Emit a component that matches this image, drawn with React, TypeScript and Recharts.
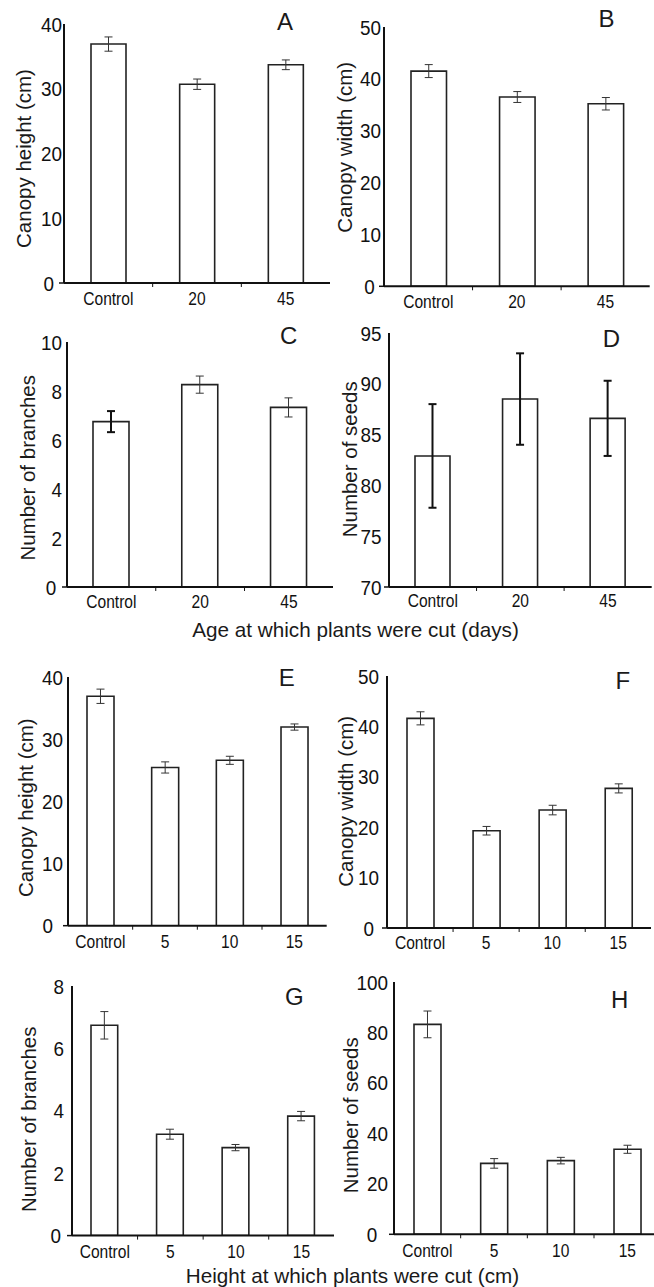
import React from 'react';
import { BarChart, Bar, XAxis, YAxis, ErrorBar, Label } from 'recharts';

// ---------- data ----------
const ageCategories = ['Control', '20', '45'];
const cutCategories = ['Control', '5', '10', '15'];

const canopyHeightAge = [36.9, 30.7, 33.7];
const canopyHeightAgeErr = [1.1, 0.8, 0.75];
const canopyWidthAge = [41.5, 36.5, 35.2];
const canopyWidthAgeErr = [1.25, 1.05, 1.2];
const branchesAge = [6.75, 8.26, 7.33];
const branchesAgeErr = [0.43, 0.35, 0.39];
const seedsAge = [82.9, 88.5, 86.6];
const seedsAgeErr = [5.1, 4.5, 3.7];

const canopyHeightCut = [36.9, 25.45, 26.6, 31.95];
const canopyHeightCutErr = [1.15, 0.9, 0.65, 0.5];
const canopyWidthCut = [41.6, 19.3, 23.4, 27.7];
const canopyWidthCutErr = [1.3, 0.85, 0.95, 0.9];
const branchesCut = [6.74, 3.25, 2.82, 3.83];
const branchesCutErr = [0.44, 0.16, 0.1, 0.15];
const seedsCut = [83.2, 28.1, 29.2, 33.7];
const seedsCutErr = [5.3, 1.9, 1.3, 1.6];

const ticksHeight = [0, 10, 20, 30, 40];
const ticksWidth = [0, 10, 20, 30, 40, 50];
const ticksBranchesAge = [0, 2, 4, 6, 8, 10];
const ticksSeedsAge = [70, 75, 80, 85, 90, 95];
const ticksBranchesCut = [0, 2, 4, 6, 8];
const ticksSeedsCut = [0, 20, 40, 60, 80, 100];

const boldAllNone = [false, false, false, false];
const boldFirst = [true, false, false];
const boldAll = [true, true, true];

const titleAge = 'Age at which plants were cut (days)';
const titleCut = 'Height at which plants were cut (cm)';

// ---------- style / layout ----------
const SANS = "'Liberation Sans', Arial, Helvetica, sans-serif";
const YW = 60;
const MT = 25;
const XH = 40;
const X_MARGIN = 10;

type Cfg = {
  letter: string; cats: string[]; values: number[]; errs: number[]; bold: boolean[];
  ticks: number[]; yLabel: string;
  axisX: number; right: number; top: number; bottom: number;
  barSize: number; gap: number; zeroGap: number; labelOffset: number; labelCy: number;
  letterX: number; letterY: number; xMargin: number;
};

const panels: Cfg[] = [
  { letter: 'A', cats: ageCategories, values: canopyHeightAge, errs: canopyHeightAgeErr, bold: boldAllNone,
    ticks: ticksHeight, yLabel: 'Canopy height (cm)', axisX: 64, right: 330, top: 24, bottom: 283,
    barSize: 35, gap: 2, zeroGap: 10, labelOffset: 39, labelCy: 158.5, letterX: 285, letterY: 21, xMargin: 9 },
  { letter: 'B', cats: ageCategories, values: canopyWidthAge, errs: canopyWidthAgeErr, bold: boldAllNone,
    ticks: ticksWidth, yLabel: 'Canopy width (cm)', axisX: 384.3, right: 650, top: 26.7, bottom: 286,
    barSize: 35.5, gap: 3, zeroGap: 9.3, labelOffset: 38.6, labelCy: 147, letterX: 606.7, letterY: 17.7, xMargin: 8 },
  { letter: 'C', cats: ageCategories, values: branchesAge, errs: branchesAgeErr, bold: boldFirst,
    ticks: ticksBranchesAge, yLabel: 'Number of branches', axisX: 66.7, right: 333, top: 341.7, bottom: 586.7,
    barSize: 36, gap: 5, zeroGap: 10.7, labelOffset: 37.7, labelCy: 467.5, letterX: 288.3, letterY: 335, xMargin: 8 },
  { letter: 'D', cats: ageCategories, values: seedsAge, errs: seedsAgeErr, bold: boldAll,
    ticks: ticksSeedsAge, yLabel: 'Number of seeds', axisX: 389.3, right: 652, top: 332.7, bottom: 586.7,
    barSize: 35, gap: 7.5, zeroGap: 7.5, labelOffset: 38.6, labelCy: 459, letterX: 611.7, letterY: 338, xMargin: 7 },
  { letter: 'E', cats: cutCategories, values: canopyHeightCut, errs: canopyHeightCutErr, bold: boldAllNone,
    ticks: ticksHeight, yLabel: 'Canopy height (cm)', axisX: 68.3, right: 327, top: 677.3, bottom: 926,
    barSize: 27, gap: 5, zeroGap: 15, labelOffset: 41.6, labelCy: 808, letterX: 287, letterY: 678, xMargin: 9 },
  { letter: 'F', cats: cutCategories, values: canopyWidthCut, errs: canopyWidthCutErr, bold: boldAllNone,
    ticks: ticksWidth, yLabel: 'Canopy width (cm)', axisX: 386.7, right: 651, top: 675.7, bottom: 927.7,
    barSize: 27, gap: 8, zeroGap: 13, labelOffset: 40, labelCy: 801, letterX: 622.5, letterY: 680, xMargin: 8 },
  { letter: 'G', cats: cutCategories, values: branchesCut, errs: branchesCutErr, bold: boldAllNone,
    ticks: ticksBranchesCut, yLabel: 'Number of branches', axisX: 71.7, right: 334, top: 985.7, bottom: 1235.3,
    barSize: 26.7, gap: 8, zeroGap: 11, labelOffset: 41.7, labelCy: 1119, letterX: 294, letterY: 996.3, xMargin: 9 },
  { letter: 'H', cats: cutCategories, values: seedsCut, errs: seedsCutErr, bold: boldAllNone,
    ticks: ticksSeedsCut, yLabel: 'Number of seeds', axisX: 394.3, right: 661, top: 981.7, bottom: 1234,
    barSize: 27, gap: 6, zeroGap: 16.7, labelOffset: 42.6, labelCy: 1115, letterX: 620, letterY: 998.7, xMargin: 9 },
];

function Panel({ c }: { c: Cfg }) {
  const plotW = c.right - c.axisX;
  const plotH = c.bottom - c.top;
  const W = YW + plotW;
  const H = MT + plotH + XH;
  const left = c.axisX - YW;
  const top = c.top - MT;
  const n = c.cats.length;
  const rows = c.cats.map((name, i) => ({
    name,
    value: c.values[i],
    errThin: c.bold[i] ? null : c.errs[i],
    errBold: c.bold[i] ? c.errs[i] : null,
  }));
  const min = c.ticks[0];
  const max = c.ticks[c.ticks.length - 1];

  const yTick = (p: any) => {
    const isMin = p.payload.value === min;
    const tx = YW - (isMin ? c.zeroGap : c.gap);
    return (
      <g>
        {isMin && (
          <line x1={YW - 5} x2={YW} y1={p.y} y2={p.y} stroke="#111" strokeWidth={1.5} />
        )}
        <text transform={`translate(${tx},${p.y}) scale(0.9,1)`} x={0} y={0} dy="0.36em" textAnchor="end"
          fontFamily={SANS} fontSize={21} fill="#111">
          {p.payload.value}
        </text>
      </g>
    );
  };

  const xTick = (p: any) => {
    const axisY = MT + plotH;
    const off = p.payload.offset != null ? p.payload.offset : plotW / n / 2;
    return (
      <g>
        <text transform={`translate(${p.x},${axisY + c.xMargin}) scale(0.82,1)`} x={0} y={0} dy="0.71em"
          textAnchor="middle" fontFamily={SANS} fontSize={19} fill="#111">
          {p.payload.value}
        </text>
        {p.payload.index < n - 1 && (
          <line x1={p.x + off} x2={p.x + off} y1={axisY} y2={axisY + 4} stroke="#111" strokeWidth={1} />
        )}
      </g>
    );
  };

  const labelContent = () => {
    const lx = YW - c.labelOffset;
    const ly = c.labelCy - top;
    const px = c.letterX - left;
    const py = c.letterY - top;
    return (
      <g>
        <text x={lx} y={ly} dy="0.3em" textAnchor="middle" transform={`rotate(-90, ${lx}, ${ly})`}
          fontFamily={SANS} fontSize={20.5} fill="#1a1a1a">
          {c.yLabel}
        </text>
        <text x={px} y={py} dy="0.36em" textAnchor="middle" fontFamily={SANS} fontSize={24} fill="#1a1a1a">
          {c.letter}
        </text>
      </g>
    );
  };

  return (
    <div style={{ position: 'absolute', left, top, width: W, height: H }}>
      <BarChart width={W} height={H} data={rows} margin={{ top: MT, right: 0, bottom: 0, left: 0 }}
        barCategoryGap={0}>
        <XAxis dataKey="name" type="category" height={XH} tickLine={false} tickSize={0}
          tickMargin={X_MARGIN} axisLine={{ stroke: '#111', strokeWidth: 2 }} tick={xTick} interval={0} />
        <YAxis type="number" domain={[min, max]} ticks={c.ticks} width={YW} tickLine={false} tickSize={0}
          axisLine={{ stroke: '#111', strokeWidth: 2 }} tick={yTick} interval={0} allowDataOverflow>
          <Label content={labelContent} />
        </YAxis>
        <Bar dataKey="value" fill="#ffffff" stroke="#222" strokeWidth={1.6} barSize={c.barSize}
          isAnimationActive={false}>
          <ErrorBar dataKey="errThin" width={4} stroke="#333" strokeWidth={1} />
          <ErrorBar dataKey="errBold" width={4} stroke="#111" strokeWidth={2} />
        </Bar>
      </BarChart>
    </div>
  );
}

export default function App() {
  return (
    <div style={{ position: 'absolute', left: 0, top: 0, width: 654, height: 1287, overflow: 'hidden', background: '#fff' }}>
      {panels.map((c) => <Panel key={c.letter} c={c} />)}
      <svg style={{ position: 'absolute', left: 0, top: 600 }} width={654} height={50}>
        <text x={355.5} y={36.7} textAnchor="middle" fontFamily={SANS} fontSize={20.7} fill="#1a1a1a">{titleAge}</text>
      </svg>
      <svg style={{ position: 'absolute', left: 0, top: 1250 }} width={654} height={37}>
        <text x={352.5} y={32.7} textAnchor="middle" fontFamily={SANS} fontSize={20.7} fill="#1a1a1a">{titleCut}</text>
      </svg>
    </div>
  );
}
